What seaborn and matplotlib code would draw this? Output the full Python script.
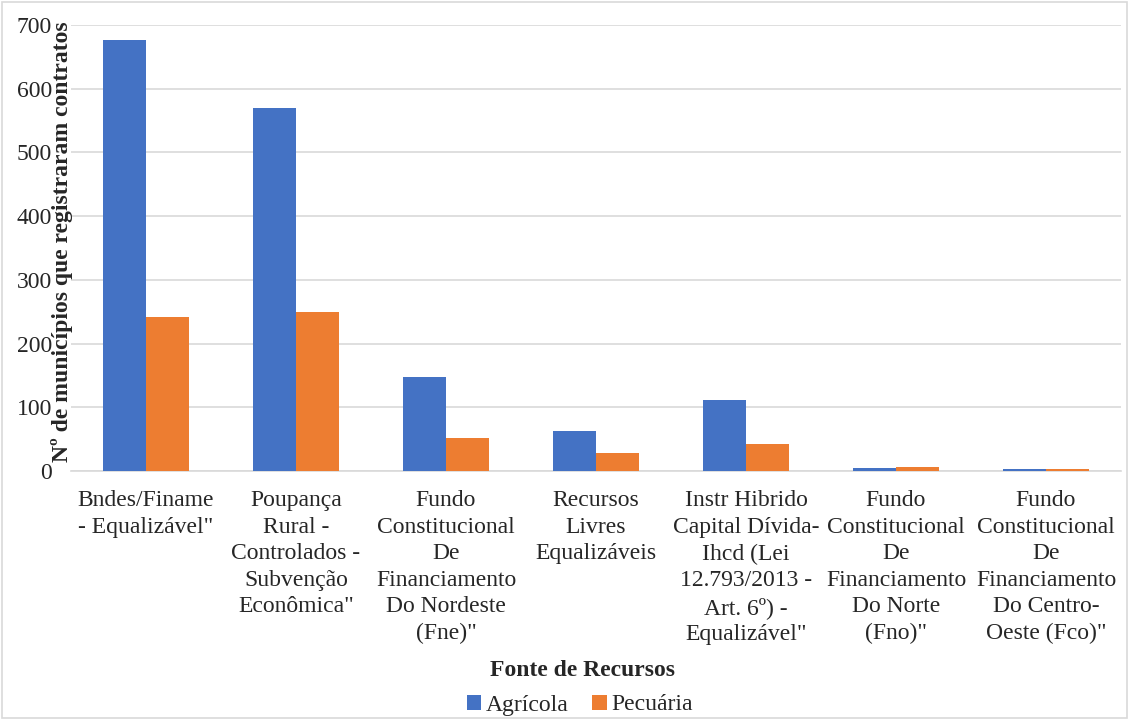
import pandas as pd
import matplotlib
matplotlib.use('Agg')
import matplotlib.pyplot as plt
import seaborn as sns
from matplotlib.patches import Rectangle, Patch

# --- DADOS ---
fontes = [
    'Bndes/Finame\n- Equalizável"',
    'Poupança\nRural -\nControlados -\nSubvenção\nEconômica"',
    'Fundo\nConstitucional\nDe\nFinanciamento\nDo Nordeste\n(Fne)"',
    'Recursos\nLivres\nEqualizáveis',
    'Instr Hibrido\nCapital Dívida-\nIhcd (Lei\n12.793/2013 -\nArt. 6º) -\nEqualizável"',
    'Fundo\nConstitucional\nDe\nFinanciamento\nDo Norte\n(Fno)"',
    'Fundo\nConstitucional\nDe\nFinanciamento\nDo Centro-\nOeste (Fco)"',
]
agricola = [676, 569, 148, 63, 111, 5, 3]
pecuaria = [241, 249, 52, 28, 42, 6, 3]
series = ['Agrícola', 'Pecuária']
cores = ['#4472C4', '#ED7D31']

df = pd.DataFrame({
    'fonte': fontes * 2,
    'valor': agricola + pecuaria,
    'tipo': [series[0]] * len(fontes) + [series[1]] * len(fontes),
})

sns.set_style('white')
plt.rcParams['font.family'] = ['Liberation Serif', 'DejaVu Serif']
FS = 17

fig = plt.figure(figsize=(11.29, 7.2), dpi=100)
W, H = 1129, 720
ax = fig.add_axes([71 / W, 1 - 471 / H, (1121 - 71) / W, (471 - 25) / H])

sns.barplot(data=df, x='fonte', y='valor', hue='tipo', palette=cores,
            width=0.575, saturation=1, ax=ax, legend=False)
for p in ax.patches:
    p.set_edgecolor('none')
    p.set_zorder(3)

ax.set_ylim(0, 700)
ax.set_xlim(-0.5, len(fontes) - 0.5)
ax.set_yticks(range(0, 701, 100))
ax.yaxis.grid(True, color='#D9D9D9', linewidth=1.2)
ax.set_axisbelow(True)
for s in ['top', 'right', 'left']:
    ax.spines[s].set_visible(False)
ax.spines['bottom'].set_color('#D9D9D9')
ax.spines['bottom'].set_linewidth(1.2)
ax.spines['bottom'].set_zorder(2)

ax.tick_params(axis='y', length=0, labelsize=FS, pad=13.5)
ax.tick_params(axis='x', which='major', length=0, labelsize=FS, pad=14)
ax.set_xticks(range(len(fontes)))
ax.set_xticklabels(fontes, linespacing=1.34)
ax.set_xticks([i - 0.5 for i in range(len(fontes) + 1)], minor=True)
ax.tick_params(axis='x', which='minor', length=6, color='#D9D9D9', width=1.2)

ax.set_xlabel('')
ax.set_ylabel('')
fig.text(62 / W, 1 - 242 / H, 'Nº de municípios que registraram contratos',
         rotation=90, ha='center', va='center', fontsize=FS, fontweight='bold')
fig.text(582 / W, 1 - 670 / H, 'Fonte de Recursos', ha='center', va='center',
         fontsize=FS, fontweight='bold')

handles = [Patch(facecolor=c, edgecolor='none') for c in cores]
fig.legend(handles, series, loc='center', bbox_to_anchor=(580 / W, 1 - 705 / H),
           ncol=2, frameon=False, fontsize=FS, handlelength=0.6, handleheight=0.6,
           handletextpad=0.2, columnspacing=1.0)

fig.patches.append(Rectangle((2 / W, 2 / H), 1 - 4 / W, 1 - 4 / H,
                             transform=fig.transFigure, fill=False,
                             edgecolor='#D9D9D9', linewidth=1.2))

fig.savefig('out.png', dpi=100)
